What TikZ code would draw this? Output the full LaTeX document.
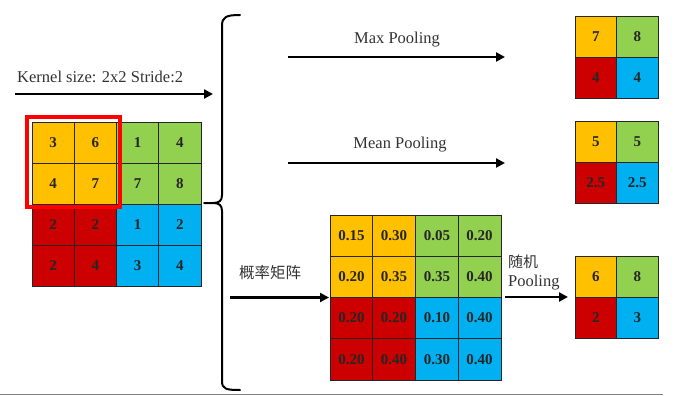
\documentclass[tikz,border=0pt]{standalone}
\usepackage{fontspec}
\setmainfont{Liberation Serif}
\newfontfamily\cjk{Noto Sans CJK SC}
\usetikzlibrary{arrows.meta}
\definecolor{cOr}{HTML}{FFC000}
\definecolor{cGr}{HTML}{92D050}
\definecolor{cRd}{HTML}{CC0000}
\definecolor{cBl}{HTML}{00B0F0}
\definecolor{txt}{HTML}{333333}
\tikzset{
  cell/.style={draw=black!85, line width=0.7pt, inner sep=0pt,
    text=black!85, font=\fontsize{15}{16}\selectfont\bfseries},
  lc/.style={cell, minimum width=42.25pt, minimum height=41pt},
  mc/.style={cell, minimum width=42.75pt, minimum height=41.25pt},
  rc/.style={cell, minimum width=41.5pt, minimum height=41pt},
  lbl/.style={text=txt, font=\fontsize{16.5}{18}\selectfont, inner sep=0pt},
  flow/.style={line width=2.6pt, -{Triangle[length=9pt,width=9pt]}},
}
\begin{document}
\begin{tikzpicture}[x=1pt,y=-1pt]
\useasboundingbox (0,0) rectangle (677,396);
% left grid
\node[lc,fill=cOr] (l11) at (53.1,142.5) {3};
\node[lc,fill=cOr] (l12) at (95.4,142.5) {6};
\node[lc,fill=cGr] (l13) at (137.6,142.5) {1};
\node[lc,fill=cGr] (l14) at (179.9,142.5) {4};
\node[lc,fill=cOr] (l21) at (53.1,183.5) {4};
\node[lc,fill=cOr] (l22) at (95.4,183.5) {7};
\node[lc,fill=cGr] (l23) at (137.6,183.5) {7};
\node[lc,fill=cGr] (l24) at (179.9,183.5) {8};
\node[lc,fill=cRd] (l31) at (53.1,224.5) {2};
\node[lc,fill=cRd] (l32) at (95.4,224.5) {2};
\node[lc,fill=cBl] (l33) at (137.6,224.5) {1};
\node[lc,fill=cBl] (l34) at (179.9,224.5) {2};
\node[lc,fill=cRd] (l41) at (53.1,265.5) {2};
\node[lc,fill=cRd] (l42) at (95.4,265.5) {4};
\node[lc,fill=cBl] (l43) at (137.6,265.5) {3};
\node[lc,fill=cBl] (l44) at (179.9,265.5) {4};
% kernel window
\node[draw=red, line width=3.5pt, minimum width=93pt, minimum height=90pt, inner sep=0pt] (kern) at (73.5,162) {};
% middle grid
\node[mc,fill=cOr] (m11) at (351.4,235.6) {0.15};
\node[mc,fill=cOr] (m12) at (394.1,235.6) {0.30};
\node[mc,fill=cGr] (m13) at (436.9,235.6) {0.05};
\node[mc,fill=cGr] (m14) at (479.6,235.6) {0.20};
\node[mc,fill=cOr] (m21) at (351.4,276.9) {0.20};
\node[mc,fill=cOr] (m22) at (394.1,276.9) {0.35};
\node[mc,fill=cGr] (m23) at (436.9,276.9) {0.35};
\node[mc,fill=cGr] (m24) at (479.6,276.9) {0.40};
\node[mc,fill=cRd] (m31) at (351.4,318.1) {0.20};
\node[mc,fill=cRd] (m32) at (394.1,318.1) {0.20};
\node[mc,fill=cBl] (m33) at (436.9,318.1) {0.10};
\node[mc,fill=cBl] (m34) at (479.6,318.1) {0.40};
\node[mc,fill=cRd] (m41) at (351.4,359.4) {0.20};
\node[mc,fill=cRd] (m42) at (394.1,359.4) {0.40};
\node[mc,fill=cBl] (m43) at (436.9,359.4) {0.30};
\node[mc,fill=cBl] (m44) at (479.6,359.4) {0.40};
% right grids
\node[rc,fill=cOr] (a11) at (595.75,36.5) {7};
\node[rc,fill=cGr] (a12) at (637.25,36.5) {8};
\node[rc,fill=cRd] (a21) at (595.75,77.5) {4};
\node[rc,fill=cBl] (a22) at (637.25,77.5) {4};
\node[rc,fill=cOr] (b11) at (595.75,141.5) {5};
\node[rc,fill=cGr] (b12) at (637.25,141.5) {5};
\node[rc,fill=cRd] (b21) at (595.75,182.5) {2.5};
\node[rc,fill=cBl] (b22) at (637.25,182.5) {2.5};
\node[rc,fill=cOr] (c11) at (595.75,276.5) {6};
\node[rc,fill=cGr] (c12) at (637.25,276.5) {8};
\node[rc,fill=cRd] (c21) at (595.75,317.5) {2};
\node[rc,fill=cBl] (c22) at (637.25,317.5) {3};
% labels
\node[lbl, anchor=west] (tk) at (17,77) {Kernel size: 2x2 Stride:2};
\node[lbl] (tmax) at (397,40) {Max Pooling};
\node[lbl] (tmean) at (400,145) {Mean Pooling};
\node[lbl, font=\cjk\fontsize{15.5}{17}\selectfont] (tprob) at (270,273) {概率矩阵};
\node[lbl, anchor=west, font=\cjk\fontsize{15}{17}\selectfont] (trand) at (508,262) {随机};
\node[lbl, anchor=west] (tpool) at (508,283) {Pooling};
% arrow endpoints
\coordinate (k0) at (15,94);
\coordinate (k1) at (213,94);
\coordinate (x0) at (288,57);
\coordinate (x1) at (505,57);
\coordinate (y0) at (288,163);
\coordinate (y1) at (505,163);
\coordinate (p0) at (230,297.5);
\coordinate (p1) at (329,297.5);
\coordinate (r0) at (505,297);
\coordinate (r1) at (568,297);
\draw[flow] (k0) -- (k1);
\draw[flow] (x0) -- (x1);
\draw[flow] (y0) -- (y1);
\draw[flow] (p0) -- (p1);
\draw[flow] (r0) -- (r1);
% brace
\draw[line width=2pt, line cap=round]
  (240,15) .. controls (226,15) and (222,17) .. (222,26)
  -- (222,195) .. controls (222,201) and (219,203) .. (213,203) -- (204,203)
  (213,203) .. controls (219,203) and (222,205) .. (222,211)
  -- (222,381) .. controls (222,389) and (226,390) .. (240,390);
% bottom rule
\draw[gray, line width=1pt] (0,394) -- (663,394);
\end{tikzpicture}
\end{document}
